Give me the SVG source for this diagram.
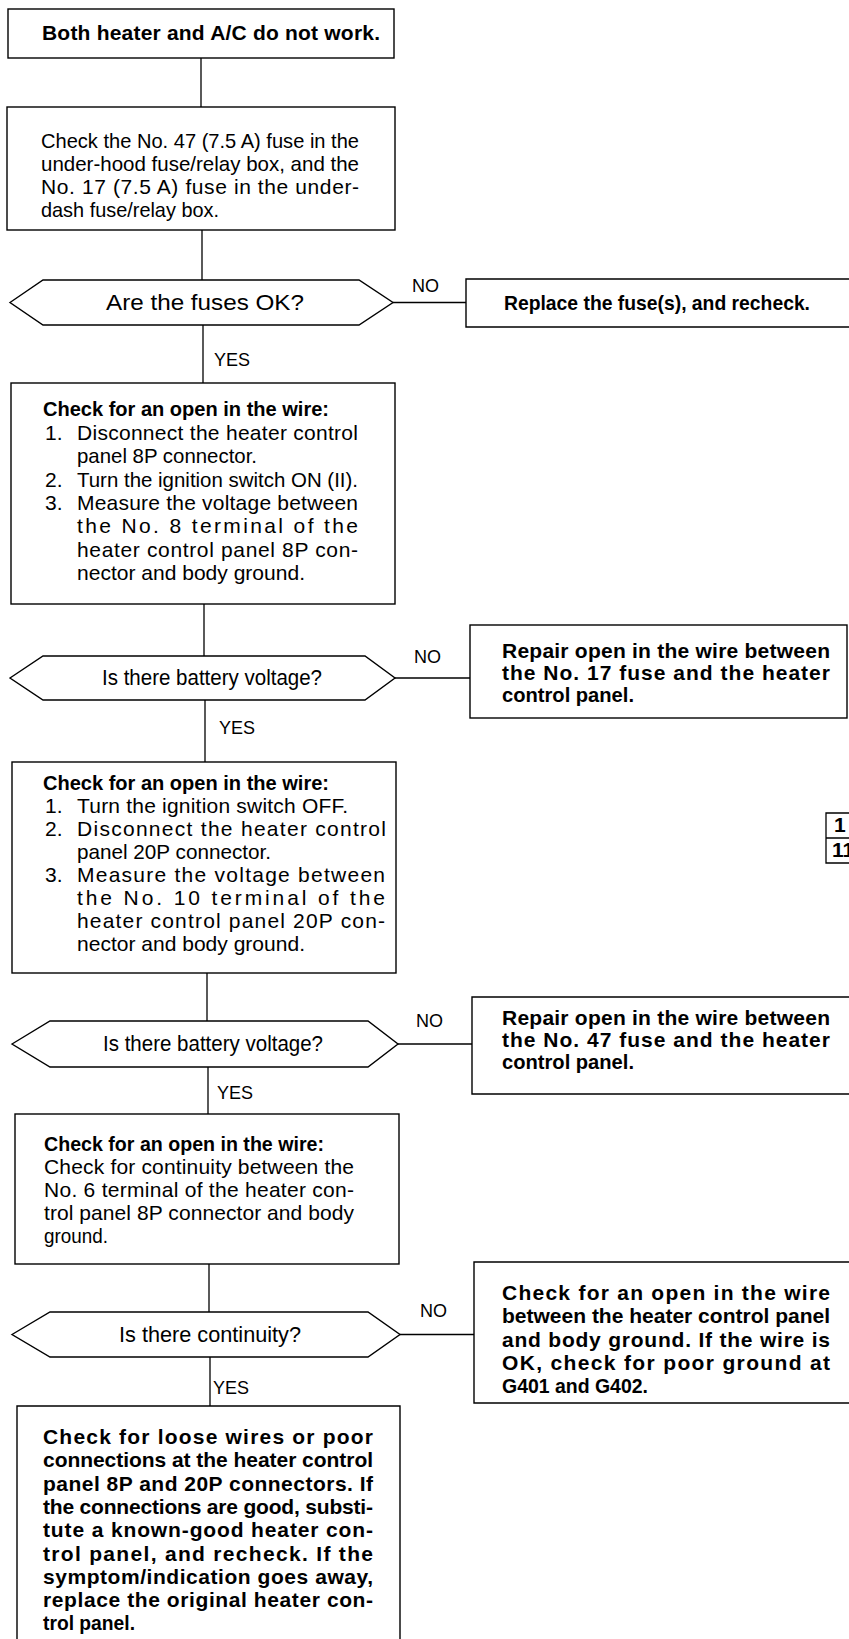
<svg xmlns="http://www.w3.org/2000/svg" width="849" height="1639" viewBox="0 0 849 1639">
<style>
.bx{fill:#fff;stroke:#000;stroke-width:1.4}
.ln{fill:none;stroke:#000;stroke-width:1.3}
text{font-family:"Liberation Sans",Arial,Helvetica,sans-serif;font-size:21px;fill:#000}
.b{font-weight:bold}
.d{font-size:22px}
.lb{font-size:18px}
</style>
<rect width="849" height="1639" fill="#fff"/>
<g id="connectors">
<line class="ln" x1="201" y1="58" x2="201" y2="107"/>
<line class="ln" x1="202" y1="230" x2="202" y2="280"/>
<line class="ln" x1="203" y1="325" x2="203" y2="383"/>
<line class="ln" x1="204" y1="604" x2="204" y2="656"/>
<line class="ln" x1="205" y1="700" x2="205" y2="762"/>
<line class="ln" x1="207" y1="973" x2="207" y2="1021"/>
<line class="ln" x1="208" y1="1067" x2="208" y2="1114"/>
<line class="ln" x1="209" y1="1264" x2="209" y2="1312"/>
<line class="ln" x1="210" y1="1357" x2="210" y2="1406"/>
<line class="ln" x1="393" y1="302.5" x2="466" y2="302.5"/>
<line class="ln" x1="395" y1="678" x2="470" y2="678"/>
<line class="ln" x1="398" y1="1044" x2="472" y2="1044"/>
<line class="ln" x1="400" y1="1334.5" x2="474" y2="1334.5"/>
<text x="412" y="292" class="lb">NO</text>
<text x="214" y="366" class="lb">YES</text>
<text x="414" y="663" class="lb">NO</text>
<text x="219" y="734" class="lb">YES</text>
<text x="416" y="1027" class="lb">NO</text>
<text x="217" y="1099" class="lb">YES</text>
<text x="420" y="1317" class="lb">NO</text>
<text x="213" y="1394" class="lb">YES</text>
</g>
<g id="start">
<rect class="bx" x="8" y="9" width="386" height="49"/>
<text x="42" y="40" class="b" textLength="338" lengthAdjust="spacing">Both heater and A/C do not work.</text>
</g>
<g id="check-fuses">
<rect class="bx" x="7" y="107" width="388" height="123"/>
<text x="41" y="148" textLength="318" lengthAdjust="spacingAndGlyphs">Check the No. 47 (7.5 A) fuse in the</text>
<text x="41" y="171" textLength="318" lengthAdjust="spacingAndGlyphs">under-hood fuse/relay box, and the</text>
<text x="41" y="194" textLength="318" lengthAdjust="spacing">No. 17 (7.5 A) fuse in the under-</text>
<text x="41" y="217" textLength="178" lengthAdjust="spacingAndGlyphs">dash fuse/relay box.</text>
</g>
<g id="dec-fuses">
<polygon class="bx" points="10,302.5 43,280 359,280 393,302.5 359,325 43,325"/>
<text x="106" y="310" class="d" textLength="198" lengthAdjust="spacingAndGlyphs">Are the fuses OK?</text>
</g>
<g id="replace-fuses">
<path class="bx" d="M860,279 H466 V327 H860"/>
<text x="504" y="310" class="b" textLength="306" lengthAdjust="spacingAndGlyphs">Replace the fuse(s), and recheck.</text>
</g>
<g id="check-8p">
<rect class="bx" x="11" y="383" width="384" height="221"/>
<text x="43" y="416" class="b" textLength="286" lengthAdjust="spacingAndGlyphs">Check for an open in the wire:</text>
<text x="45" y="440">1.</text>
<text x="77" y="440" textLength="281" lengthAdjust="spacing">Disconnect the heater control</text>
<text x="77" y="463" textLength="180" lengthAdjust="spacingAndGlyphs">panel 8P connector.</text>
<text x="45" y="487">2.</text>
<text x="77" y="487" textLength="281" lengthAdjust="spacingAndGlyphs">Turn the ignition switch ON (II).</text>
<text x="45" y="510">3.</text>
<text x="77" y="510" textLength="281" lengthAdjust="spacing">Measure the voltage between</text>
<text x="77" y="533" textLength="281" lengthAdjust="spacing">the No. 8 terminal of the</text>
<text x="77" y="557" textLength="281" lengthAdjust="spacing">heater control panel 8P con-</text>
<text x="77" y="580" textLength="228" lengthAdjust="spacingAndGlyphs">nector and body ground.</text>
</g>
<g id="dec-volt-8">
<polygon class="bx" points="10,678 43,656 365,656 395,678 365,700 43,700"/>
<text x="102" y="685" class="d" textLength="220" lengthAdjust="spacingAndGlyphs">Is there battery voltage?</text>
</g>
<g id="repair-17">
<rect class="bx" x="470" y="625" width="377" height="93"/>
<text x="502" y="658" class="b" textLength="328" lengthAdjust="spacing">Repair open in the wire between</text>
<text x="502" y="680" class="b" textLength="328" lengthAdjust="spacing">the No. 17 fuse and the heater</text>
<text x="502" y="702" class="b" textLength="132" lengthAdjust="spacingAndGlyphs">control panel.</text>
</g>
<g id="check-20p">
<rect class="bx" x="12" y="762" width="384" height="211"/>
<text x="43" y="790" class="b" textLength="286" lengthAdjust="spacingAndGlyphs">Check for an open in the wire:</text>
<text x="45" y="813">1.</text>
<text x="77" y="813" textLength="271" lengthAdjust="spacing">Turn the ignition switch OFF.</text>
<text x="45" y="836">2.</text>
<text x="77" y="836" textLength="309" lengthAdjust="spacing">Disconnect the heater control</text>
<text x="77" y="859" textLength="194" lengthAdjust="spacingAndGlyphs">panel 20P connector.</text>
<text x="45" y="882">3.</text>
<text x="77" y="882" textLength="308" lengthAdjust="spacing">Measure the voltage between</text>
<text x="77" y="905" textLength="308" lengthAdjust="spacing">the No. 10 terminal of the</text>
<text x="77" y="928" textLength="308" lengthAdjust="spacing">heater control panel 20P con-</text>
<text x="77" y="951" textLength="228" lengthAdjust="spacingAndGlyphs">nector and body ground.</text>
</g>
<g id="table-fragment">
<path class="ln" d="M860,813 H826 V863 H860 M826,838 H860"/>
<text x="834" y="832" class="b" font-size="17">1</text>
<text x="832" y="857" class="b" font-size="17">11</text>
</g>
<g id="dec-volt-10">
<polygon class="bx" points="12,1044 50,1021 368,1021 398,1044 368,1067 50,1067"/>
<text x="103" y="1051" class="d" textLength="220" lengthAdjust="spacingAndGlyphs">Is there battery voltage?</text>
</g>
<g id="repair-47">
<path class="bx" d="M860,997 H472 V1094 H860"/>
<text x="502" y="1025" class="b" textLength="328" lengthAdjust="spacing">Repair open in the wire between</text>
<text x="502" y="1047" class="b" textLength="328" lengthAdjust="spacing">the No. 47 fuse and the heater</text>
<text x="502" y="1069" class="b" textLength="132" lengthAdjust="spacingAndGlyphs">control panel.</text>
</g>
<g id="check-ground">
<rect class="bx" x="15" y="1114" width="384" height="150"/>
<text x="44" y="1151" class="b" textLength="280" lengthAdjust="spacingAndGlyphs">Check for an open in the wire:</text>
<text x="44" y="1174" textLength="310" lengthAdjust="spacing">Check for continuity between the</text>
<text x="44" y="1197" textLength="310" lengthAdjust="spacing">No. 6 terminal of the heater con-</text>
<text x="44" y="1220" textLength="310" lengthAdjust="spacing">trol panel 8P connector and body</text>
<text x="44" y="1243" textLength="64" lengthAdjust="spacingAndGlyphs">ground.</text>
</g>
<g id="dec-continuity">
<polygon class="bx" points="12,1334.5 50,1312 368,1312 400,1334.5 368,1357 50,1357"/>
<text x="119" y="1342" class="d" textLength="182" lengthAdjust="spacingAndGlyphs">Is there continuity?</text>
</g>
<g id="check-g401">
<path class="bx" d="M860,1262 H474 V1403 H860"/>
<text x="502" y="1300" class="b" textLength="328" lengthAdjust="spacing">Check for an open in the wire</text>
<text x="502" y="1323" class="b" textLength="328" lengthAdjust="spacing">between the heater control panel</text>
<text x="502" y="1347" class="b" textLength="328" lengthAdjust="spacing">and body ground. If the wire is</text>
<text x="502" y="1370" class="b" textLength="328" lengthAdjust="spacing">OK, check for poor ground at</text>
<text x="502" y="1393" class="b" textLength="146" lengthAdjust="spacingAndGlyphs">G401 and G402.</text>
</g>
<g id="substitute">
<path class="bx" d="M17,1650 V1406 H400 V1650"/>
<text x="43" y="1444" class="b" textLength="330" lengthAdjust="spacing">Check for loose wires or poor</text>
<text x="43" y="1467" class="b" textLength="330" lengthAdjust="spacing">connections at the heater control</text>
<text x="43" y="1491" class="b" textLength="330" lengthAdjust="spacing">panel 8P and 20P connectors. If</text>
<text x="43" y="1514" class="b" textLength="330" lengthAdjust="spacing">the connections are good, substi-</text>
<text x="43" y="1537" class="b" textLength="330" lengthAdjust="spacing">tute a known-good heater con-</text>
<text x="43" y="1561" class="b" textLength="330" lengthAdjust="spacing">trol panel, and recheck. If the</text>
<text x="43" y="1584" class="b" textLength="330" lengthAdjust="spacing">symptom/indication goes away,</text>
<text x="43" y="1607" class="b" textLength="330" lengthAdjust="spacing">replace the original heater con-</text>
<text x="43" y="1630" class="b" textLength="92" lengthAdjust="spacingAndGlyphs">trol panel.</text>
</g>
</svg>
